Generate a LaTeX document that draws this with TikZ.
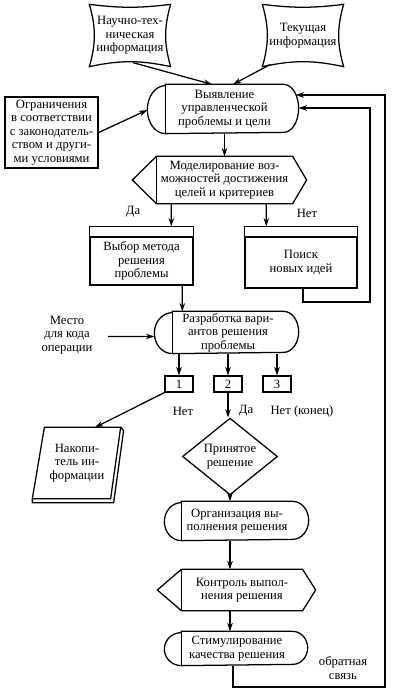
\documentclass[tikz,border=0pt]{standalone}
\usepackage{fontspec}
\setmainfont{Liberation Serif}
\usetikzlibrary{arrows.meta,calc,shapes.geometric}

\begin{document}
\begin{tikzpicture}[x=0.025cm,y=0.025cm,>={Stealth[length=6pt,width=4pt]},line width=0.9pt,
  every node/.style={font=\fontsize{9}{9.6}\selectfont,align=center,inner sep=0pt},
  box/.style={draw,line width=0.9pt},
  num/.style={box,minimum width=0.7cm,minimum height=0.4cm}]
\useasboundingbox (0,0) rectangle (407,693);
% nodes
\node (nt) [minimum width=2cm, minimum height=1.525cm] at (130,657.5) {Научно-тех-\\ническая\\информация};
\node (ti) [minimum width=2cm, minimum height=1.525cm] at (303,657.5) {Текущая\\информация};
\node (og) [box, minimum width=2.325cm, minimum height=1.775cm] at (51.5,560.5) {Ограничения\\в соответствии\\с законодатель-\\ством и други-\\ми условиями};
\node (vy) [minimum width=2.925cm, minimum height=1.2cm] at (224.5,584) {Выявление\\управленческой\\проблемы и цели};
\node (mo) [minimum width=3.375cm, minimum height=1.15cm] at (224.5,513) {Моделирование воз-\\можностей достижения\\целей и критериев};
\node (vm) [box, minimum width=2.575cm, minimum height=1.2cm] at (141.5,432) {Выбор метода\\решения\\проблемы};
\node (pn) [box, minimum width=2.8cm, minimum height=1.275cm] at (301,430.5) {Поиск\\новых идей};
\node (rz) [minimum width=2.75cm, minimum height=1.025cm] at (228,360.5) {Разработка вари-\\антов решения\\проблемы};
\node (mk) at (67,358) {Место\\для кода\\операции};
\node (b1) [num] at (179,309) {1};
\node (b2) [num] at (228,309) {2};
\node (b3) [num] at (277,309) {3};
\node (nk) [minimum width=1.9cm, minimum height=1.75cm] at (77,230) {Накопи-\\тель ин-\\формации};
\node (dp) [box, diamond, minimum width=2.375cm, minimum height=1.325cm] at (230,236.5) {Принятое\\решение};
\node (org) [minimum width=2.75cm, minimum height=0.95cm] at (237,172) {Организация вы-\\полнения решения};
\node (kt) [minimum width=3cm, minimum height=1cm] at (242,103) {Контроль выпол-\\нения решения};
\node (st) [minimum width=2.75cm, minimum height=0.825cm] at (237,44.5) {Стимулирование\\качества решения};
\node (da1) at (133,481) {Да};
\node (net1) at (307,480) {Нет};
\node (net2) at (183,282) {Нет};
\node (da2) at (246,282) {Да};
\node (kon) at (302,282) {Нет (конец)};
\node (fb) at (343,25) {обратная\\связь};
\coordinate (rail1) at (370,391);
\coordinate (rail2) at (385,6);
% outlines
\draw (nt.north west) to[bend right=7] (nt.north east) to[bend right=16] (nt.south east)
  to[bend right=12] (nt.south west) to[bend right=16] cycle;
\draw (ti.north west) to[bend right=7] (ti.north east) to[bend right=16] (ti.south east)
  to[bend right=12] (ti.south west) to[bend right=16] cycle;
\draw (vy.north west) -- (vy.north east) arc[start angle=90,end angle=-90,x radius=0.375cm,y radius=0.6cm]
  -- (vy.south west) arc[start angle=270,end angle=90,x radius=0.45cm,y radius=0.6cm] -- cycle;
\draw (vy.north west) -- (vy.south west);
\draw (mo.north west) -- (mo.north east) -- ($(mo.east)+(14,0)$) -- (mo.south east) -- (mo.south west)
  -- ($(mo.west)+(-24,0)$) -- cycle;
\draw (mo.north west) -- (mo.south west);
\draw (vm.north west) rectangle ($(vm.north east)+(0,10)$);
\draw (pn.north west) rectangle ($(pn.north east)+(0,10)$);
\draw (rz.north west) -- (rz.north east) arc[start angle=90,end angle=-90,x radius=0.375cm,y radius=0.5125cm]
  -- (rz.south west) arc[start angle=270,end angle=90,x radius=0.45cm,y radius=0.5125cm] -- cycle;
\draw (rz.north west) -- (rz.south west);
\draw ($(nk.north west)+(6,0)$) -- ($(nk.north east)+(5,0)$) -- ($(nk.south east)+(-5,0)$)
  -- ($(nk.south west)+(-6,0)$) -- cycle;
\draw ($(nk.north east)+(5,0)$) -- ++(3,-3) -- ($(nk.south east)+(-2,-4)$) -- ($(nk.south west)+(-6,-4)$)
  -- ($(nk.south west)+(-6,0)$);
\draw (org.north west) -- (org.north east) arc[start angle=90,end angle=-90,x radius=0.4cm,y radius=0.475cm]
  -- (org.south west) arc[start angle=270,end angle=90,x radius=0.425cm,y radius=0.475cm] -- cycle;
\draw (org.north west) -- (org.south west);
\draw (kt.north west) -- (kt.north east) -- ($(kt.east)+(13,0)$) -- (kt.south east) -- (kt.south west)
  -- ($(kt.west)+(-24,0)$) -- cycle;
\draw (kt.north west) -- (kt.south west);
\draw (st.north west) -- (st.north east) arc[start angle=90,end angle=-90,x radius=0.375cm,y radius=0.4125cm]
  -- (st.south west) arc[start angle=270,end angle=90,x radius=0.425cm,y radius=0.4125cm] -- cycle;
\draw (st.north west) -- (st.south west);
% connectors
\draw[->] ($(nt.south)+(3,4)$) -- ($(vy.north)+(-12.5,0)$);
\draw[->] ($(ti.south)+(-33,2)$) -- ($(vy.north)+(8.5,0)$);
\draw[->] (og.east) -- ($(vy.west)+(-18,-1)$);
\draw[->] (vy.south) -- (mo.north);
\draw[->] ($(mo.south west)+(15,0)$) -- ($(vm.north west)+(82,10)$);
\draw[->] ($(mo.south west)+(110,0)$) -- ($(pn.north west)+(22,10)$);
\draw[->] ($(vm.south west)+(93,0)$) -- ($(rz.north west)+(10,0)$);
\draw[->] ($(mk.east)+(15,-1.5)$) -- ($(rz.west)+(-18,-4)$);
\draw[->] (b1.north |- rz.south) -- (b1.north);
\draw[->] (b2.north |- rz.south) -- (b2.north);
\draw[->] (b3.north |- rz.south) -- (b3.north);
\draw[->] (b1.south west) -- ($(nk.north)+(18,0)$);
\draw[->] (b2.south) -- (b2.south |- dp.north);
\draw[->] (dp.south) -- (dp.south |- org.north);
\draw[->] (dp.south |- org.south) -- (dp.south |- kt.north);
\draw[->] (dp.south |- kt.south) -- (dp.south |- st.north);
\draw[->] ($(pn.south)+(2,0)$) |- (rail1) |- ($(vy.east)+(15,1)$);
\draw[->] ($(st.south)+(-4,0)$) |- (rail2) |- ($(vy.east)+(12,14)$);
\end{tikzpicture}
\end{document}
